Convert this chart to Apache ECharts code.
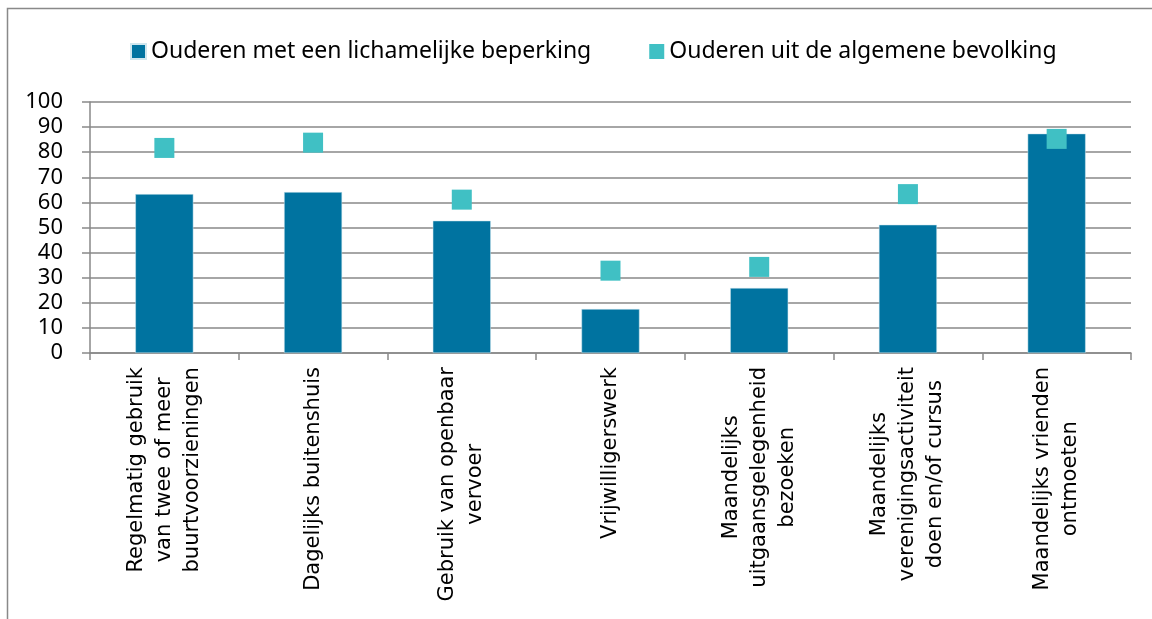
<!DOCTYPE html>
<html lang="nl">
<head>
    <meta charset="UTF-8">
    <title>Participatie ouderen</title>
    <script src="https://cdn.jsdelivr.net/npm/echarts@6/dist/echarts.min.js" type="text/javascript"></script>
    <style>
        html, body { margin: 0; padding: 0; background: #fff; }
    </style>
</head>
<body>
<div id="chart" style="width: 1152px;height:619px;"></div>
</body>

<script type="text/javascript">
    var categories = [
        'Regelmatig gebruik\nvan twee of meer\nbuurtvoorzieningen',
        'Dagelijks buitenshuis',
        'Gebruik van openbaar\nvervoer',
        'Vrijwilligerswerk',
        'Maandelijks\nuitgaansgelegenheid\nbezoeken',
        'Maandelijks\nverenigingsactiviteit\ndoen en/of cursus',
        'Maandelijks vrienden\nontmoeten'
    ];
    var beperking = [63.3, 64.1, 52.7, 17.5, 25.9, 51.1, 87.4];
    var bevolking = [81.7, 83.8, 61.1, 32.8, 34.3, 63.3, 85.3];
    var seriesNames = ['Ouderen met een lichamelijke beperking', 'Ouderen uit de algemene bevolking'];

    var chart = echarts.init(document.getElementById('chart'));
    var gray = '#898989';

    chart.setOption({
        animation: false,
        graphic: [{
            type: 'rect',
            shape: {x: 7.5, y: 8.5, width: 1200, height: 700},
            style: {fill: 'none', stroke: gray, lineWidth: 1.5},
            silent: true
        }],
        legend: {
            left: 125,
            top: 35,
            itemWidth: 15,
            itemHeight: 15,
            itemGap: 58,
            textStyle: {fontFamily: 'Noto Sans', fontSize: 23, color: '#000'},
            data: [
                {name: seriesNames[0], icon: 'rect'},
                {name: seriesNames[1], icon: 'rect'}
            ]
        },
        grid: {left: 90, right: 21, top: 102, bottom: 266},
        xAxis: {
            type: 'category',
            data: categories,
            axisLine: {lineStyle: {color: gray, width: 1.5}},
            axisTick: {show: true, length: 7, lineStyle: {color: gray, width: 1.5}},
            axisLabel: {
                interval: 0,
                rotate: 90,
                margin: 14,
                color: '#000',
                fontFamily: 'DejaVu Sans',
                fontSize: 21,
                lineHeight: 28,
                formatter: function (v) {
                    return v.split('\n').map(function (s) { return '{c|' + s + '}'; }).join('\n');
                },
                rich: {
                    c: {align: 'center', fontFamily: 'DejaVu Sans', fontSize: 21, lineHeight: 28, color: '#000'}
                }
            }
        },
        yAxis: {
            type: 'value',
            min: 0,
            max: 100,
            interval: 10,
            axisLine: {show: true, lineStyle: {color: gray, width: 1.5}},
            axisTick: {show: true, length: 8, lineStyle: {color: gray, width: 1.5}},
            axisLabel: {margin: 27, color: '#000', fontFamily: 'Noto Sans', fontSize: 22},
            splitLine: {lineStyle: {color: gray, width: 1.5}}
        },
        series: [
            {
                name: seriesNames[0],
                type: 'bar',
                barWidth: 58,
                itemStyle: {color: '#0073A0', borderColor: '#cfe6ee', borderWidth: 0.5},
                data: beperking
            },
            {
                name: seriesNames[1],
                type: 'scatter',
                symbol: 'rect',
                symbolSize: 20,
                itemStyle: {color: '#40C0C4', opacity: 1},
                z: 3,
                data: bevolking
            }
        ]
    });
</script>
</html>
